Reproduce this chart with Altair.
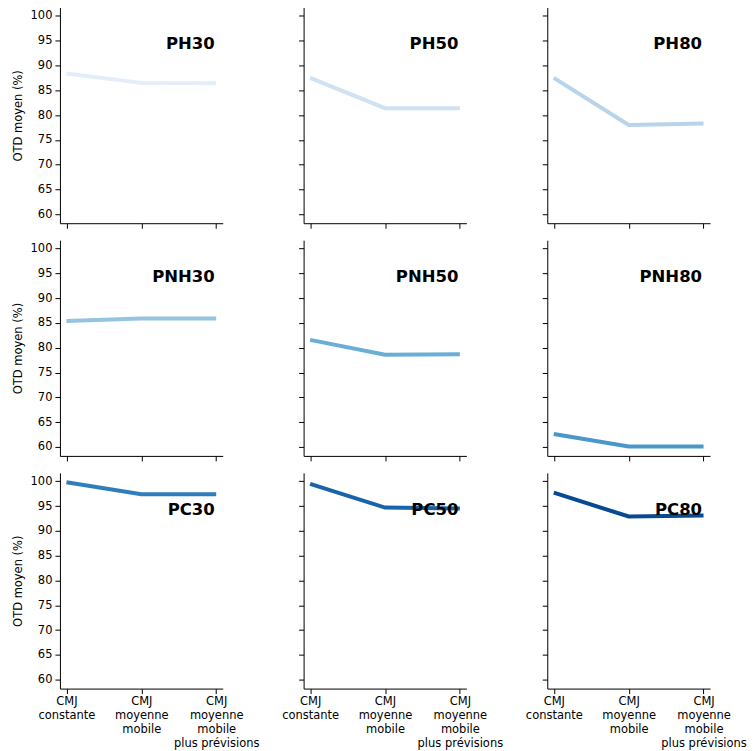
import altair as alt
import pandas as pd

methods = ["CMJ\nconstante", "CMJ\nmoyenne\nmobile", "CMJ\nmoyenne\nmobile\nplus prévisions"]
panels = ["PH30", "PH50", "PH80", "PNH30", "PNH50", "PNH80", "PC30", "PC50", "PC80"]
values = {
    "PH30": [88.4, 86.5, 86.4],
    "PH50": [87.5, 81.4, 81.4],
    "PH80": [87.5, 78.0, 78.3],
    "PNH30": [85.4, 85.9, 85.9],
    "PNH50": [81.6, 78.6, 78.7],
    "PNH80": [62.6, 60.1, 60.1],
    "PC30": [99.8, 97.4, 97.4],
    "PC50": [99.5, 94.7, 94.5],
    "PC80": [97.7, 92.9, 93.1],
}
colors = ["#e3eef9", "#d0e1f2", "#b7d4ea", "#94c4df", "#6aaed6",
          "#4a98c9", "#2e7ebc", "#1764ab", "#084a91"]
y_ticks = [60, 65, 70, 75, 80, 85, 90, 95, 100]
y_domain = [58.2, 101.7]

W, H = 163, 216
FONT = "DejaVu Sans"
FS = 11.5


def panel(i):
    name = panels[i]
    row, col = divmod(i, 3)
    df = pd.DataFrame({"method": methods, "otd": values[name], "panel": name})
    x_axis = alt.Axis(
        title=None,
        labels=(row == 2),
        labelExpr="split(datum.label, '\\n')",
        labelAngle=0,
        labelFont=FONT,
        labelFontSize=FS,
        labelColor="#000",
        labelLineHeight=14,
        tickColor="#000",
        domainColor="#000",
        tickSize=5,
        labelPadding=2,
        grid=False,
    )
    y_axis = alt.Axis(
        title="OTD moyen (%)" if col == 0 else None,
        titleFont=FONT,
        titleFontSize=FS,
        titleFontWeight="normal",
        titleColor="#000",
        titlePadding=7,
        labels=(col == 0),
        values=y_ticks,
        labelFont=FONT,
        labelFontSize=FS,
        labelColor="#000",
        tickColor="#000",
        domainColor="#000",
        tickSize=5,
        labelPadding=3,
        grid=False,
    )
    line = alt.Chart(df).mark_line(strokeWidth=4, color=colors[i]).encode(
        x=alt.X("method:N", sort=methods, axis=x_axis,
                scale=alt.Scale(type="point", padding=0.087)),
        y=alt.Y("otd:Q", axis=y_axis,
                scale=alt.Scale(domain=y_domain, nice=False, zero=False)),
    )
    label = alt.Chart(pd.DataFrame({"t": [name]})).mark_text(
        align="right", baseline="middle", font=FONT, fontSize=16.5,
        fontWeight="bold", color="#000"
    ).encode(text="t:N", x=alt.value(W - 8), y=alt.value(37))
    return alt.layer(line, label).properties(width=W, height=H)


chart = alt.concat(*[panel(i) for i in range(9)], columns=3,
                   spacing={"row": 17, "column": 81}, bounds="flush").configure(
    padding={"left": 4, "top": -1, "right": 0, "bottom": 0},
    view=alt.ViewConfig(stroke=None),
)
chart.save("out.html", embed_options={"renderer": "svg", "actions": False})
